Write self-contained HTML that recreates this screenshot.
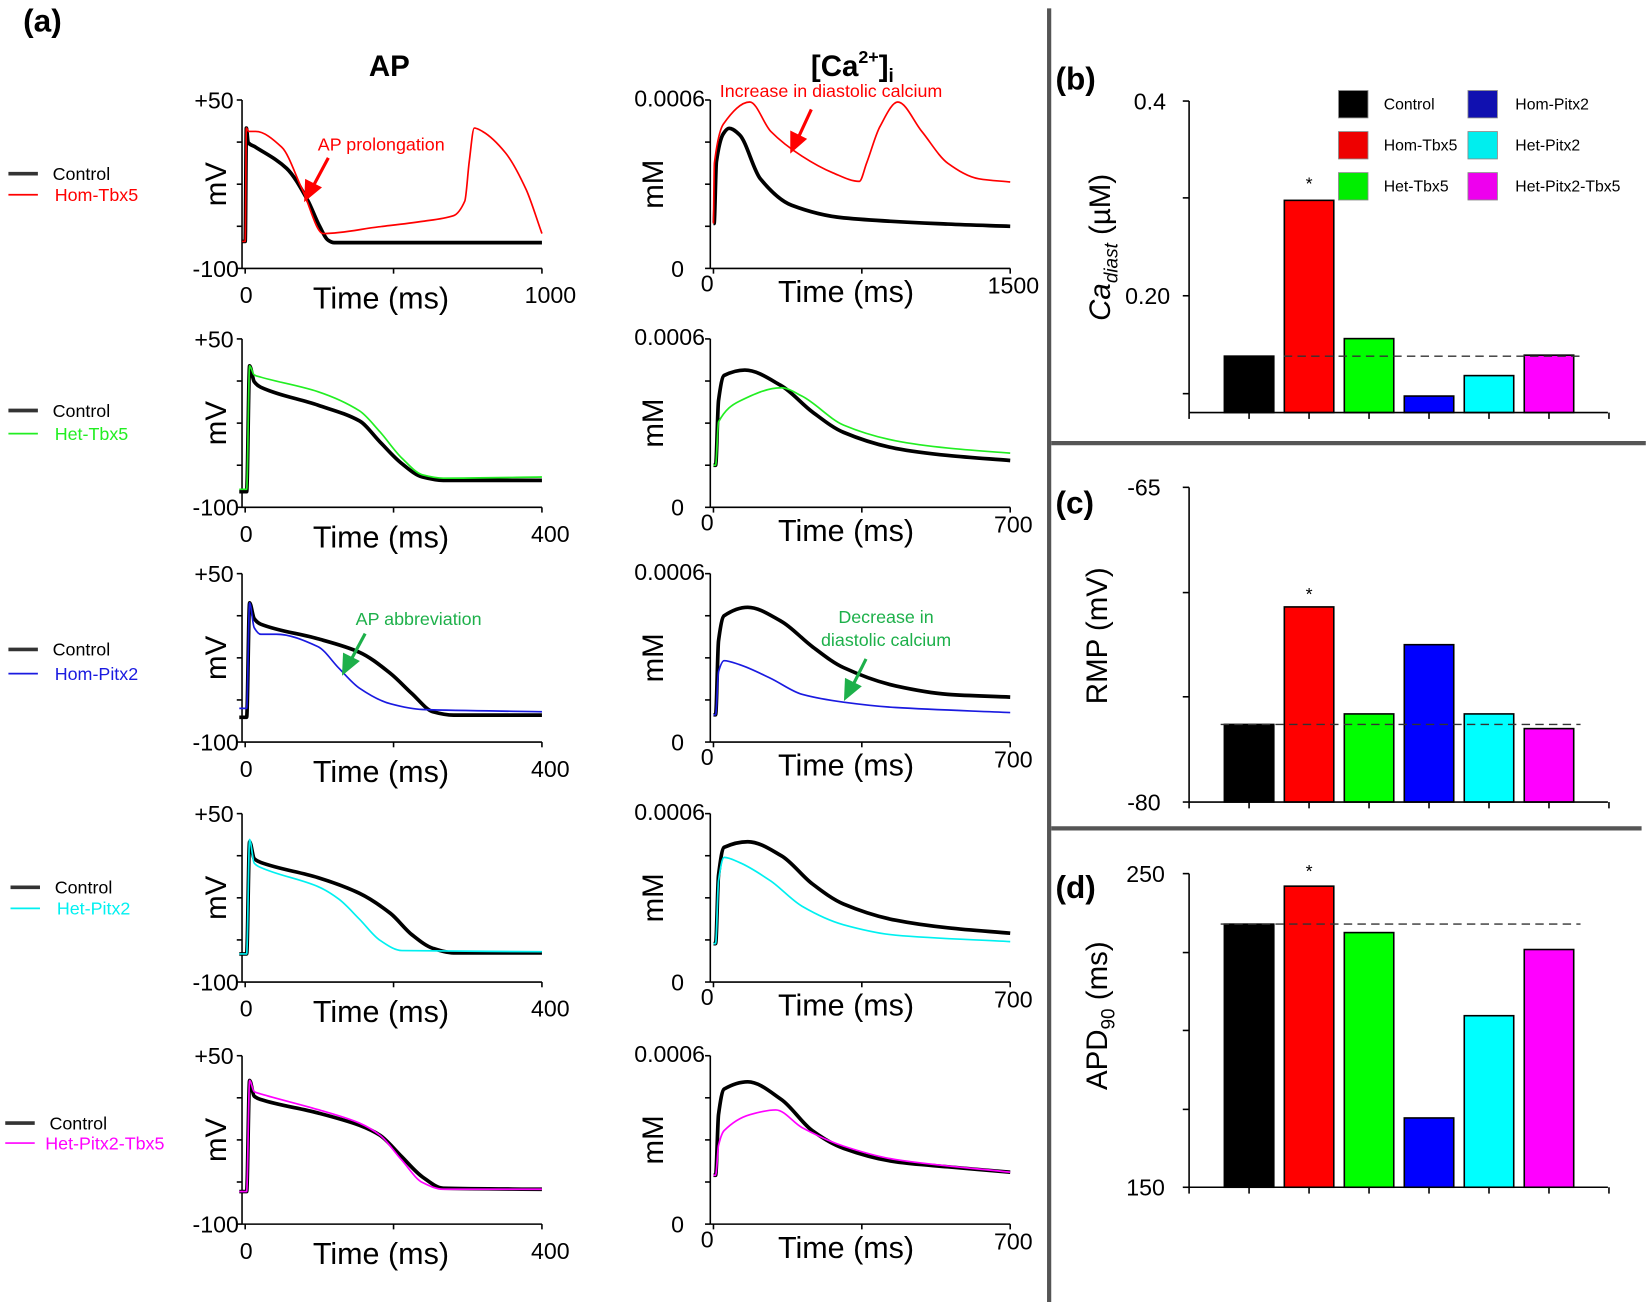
<!DOCTYPE html>
<html><head><meta charset="utf-8"><style>
html,body{margin:0;padding:0;background:#fff;}
svg{display:block;font-family:"Liberation Sans",Arial,sans-serif;}
</style></head><body>
<svg id="fig" width="1650" height="1302" viewBox="0 0 1568 1237" preserveAspectRatio="none" xmlns="http://www.w3.org/2000/svg">
<rect x="0" y="0" width="1568" height="1237" fill="#fff"/>
<text x="22" y="30" font-size="30" font-weight="bold">(a)</text>
<text x="370" y="72" font-size="28" font-weight="bold" text-anchor="middle">AP</text>
<text x="810" y="72" font-size="28" font-weight="bold" text-anchor="middle">[Ca<tspan dy="-12" font-size="17">2+</tspan><tspan dy="12">]</tspan><tspan dy="6" font-size="18">i</tspan></text>
<line x1="997" y1="8" x2="997" y2="1237" stroke="#555" stroke-width="4"/>
<line x1="999" y1="421" x2="1564" y2="421" stroke="#555" stroke-width="4"/>
<line x1="999" y1="787" x2="1560" y2="787" stroke="#555" stroke-width="4"/>
<g id="traces"></g>
<g id="bars"></g>
<text x="302" y="143" font-size="17" fill="#f00">AP prolongation</text>
<text x="684" y="92" font-size="17" fill="#f00">Increase in diastolic calcium</text>
<text x="338" y="594" font-size="17" fill="#1db04a">AP abbreviation</text>
<text x="842" y="592" font-size="17" fill="#1db04a" text-anchor="middle">Decrease in</text>
<text x="842" y="614" font-size="17" fill="#1db04a" text-anchor="middle">diastolic calcium</text>
<g>
<line x1="312" y1="150" x2="297" y2="178" stroke="#f00" stroke-width="3"/><polygon points="289,192 290,170 306,178" fill="#f00"/>
<line x1="771" y1="104" x2="758" y2="132" stroke="#f00" stroke-width="3"/><polygon points="751,146 751,124 767,132" fill="#f00"/>
<line x1="347" y1="602" x2="333" y2="628" stroke="#1db04a" stroke-width="3"/><polygon points="325,642 326,620 342,628" fill="#1db04a"/>
<line x1="823" y1="626" x2="810" y2="652" stroke="#1db04a" stroke-width="3"/><polygon points="802,666 803,644 819,652" fill="#1db04a"/>
</g>
</svg>
<script>
const ap1T_ctrl=[-10,0,4,10,35,140,210,250,280,300,1000];
const ap1V_ctrl=[-76,-76,25,12,8,-11,-39,-62,-75,-77,-77];
const ap1T_mut=[-10,0,4,12,35,123,193,263,450,600,702,740,755,772,800,877,947,1000];
const ap1V_mut=[-76,-76,25,22,22,8,-30,-69,-63,-58,-53,-40,-5,25,22,3,-30,-69];
const ca1T_ctrl=[0,3,15,50,79,132,237,395,658,1184,1500];
const ca1V_ctrl=[1.6,1.6,3.8,4.8,4.99,4.76,3.19,2.25,1.8,1.58,1.5];
const ca1T_mut=[0,5,50,184,290,447,605,737,774,842,932,1053,1184,1342,1500];
const ca1V_mut=[1.6,3.75,5.14,5.93,4.88,4.0,3.4,3.1,3.75,5.06,5.93,4.88,3.75,3.19,3.08];

const ap2T_ctrl=[-8,2,6,12,21,98,154,182,211,239,267,400];
const ap2V_ctrl=[-86,-86,26,12,7,-9,-23,-42,-61,-73,-76,-76];
const ap2T_mut=[-8,2,6,12,21,98,154,182,211,239,267,400];
const ap2V_mut=[-84,-84,26,18,16,3,-14,-33,-56,-71,-74,-73];
const ca2T_ctrl=[0,5,12,25,74,160,233,307,430,553,700];
const ca2V_ctrl=[1.5,1.5,3.8,4.7,4.89,4.33,3.4,2.67,2.1,1.85,1.67];
const ca2T_mut=[0,5,12,61,160,209,307,430,553,700];
const ca2V_mut=[1.5,1.5,3.04,3.78,4.26,3.96,2.93,2.37,2.11,1.93];

const ap3T_ctrl=[-8,2,6,12,21,98,154,196,225,253,281,400];
const ap3V_ctrl=[-78,-78,24,10,5,-8,-20,-39,-57,-73,-76,-76];
const ap3T_mut=[-8,2,6,12,21,42,98,126,154,196,239,400];
const ap3V_mut=[-70,-70,24,2,-4,-4,-15,-34,-52,-66,-71,-73];
const ca3T_ctrl=[0,5,12,25,81,160,233,307,430,553,700];
const ca3V_ctrl=[0.97,0.97,3.6,4.5,4.8,4.3,3.4,2.65,2.0,1.7,1.6];
const ca3T_mut=[0,5,12,25,61,135,209,307,430,700];
const ca3V_mut=[0.97,0.97,2.5,2.9,2.76,2.27,1.7,1.42,1.23,1.05];

const ap4T_ctrl=[-8,2,6,12,21,98,154,196,225,253,281,400];
const ap4V_ctrl=[-75,-75,25,10,6.5,-7,-21,-39,-58,-70,-74,-74];
const ap4T_mut=[-8,2,6,12,21,98,126,154,182,211,400];
const ap4V_mut=[-75,-75,27,6,2,-15,-26,-44,-63,-72,-73];
const ca4T_ctrl=[0,5,12,25,81,160,233,307,430,553,700];
const ca4V_ctrl=[1.37,1.37,3.8,4.8,5.0,4.5,3.5,2.78,2.2,1.93,1.74];
const ca4T_mut=[0,5,12,25,61,135,209,307,430,700];
const ca4V_mut=[1.37,1.37,3.6,4.44,4.26,3.6,2.7,2.04,1.67,1.44];

const ap5T_ctrl=[-8,2,6,12,21,98,154,182,211,239,267,400];
const ap5V_ctrl=[-71,-71,28,14,11,-1,-12,-21,-40,-58,-68,-69];
const ap5T_mut=[-8,2,6,12,21,98,154,182,211,239,267,400];
const ap5V_mut=[-71,-71,28,18,16,2,-10,-21,-43,-63,-69,-69];
const ca5T_ctrl=[0,5,12,25,81,160,233,307,430,553,700];
const ca5V_ctrl=[1.74,1.74,3.9,4.81,5.07,4.44,3.33,2.7,2.22,2.04,1.85];
const ca5T_mut=[0,5,12,25,86,147,209,307,430,700];
const ca5V_mut=[1.74,1.74,2.8,3.33,3.9,4.07,3.44,2.78,2.3,1.85];

const apTmax=[1000,400,400,400,400];
const caTmax=[1500,700,700,700,700];
const mutNames=["Hom-Tbx5","Het-Tbx5","Hom-Pitx2","Het-Pitx2","Het-Pitx2-Tbx5"];
const mutColors=["#ff0000","#22ee22","#1a1ae0","#00f0f0","#ff00ff"];

const barCats=["Control","Hom-Tbx5","Het-Tbx5","Hom-Pitx2","Het-Pitx2","Het-Pitx2-Tbx5"];
const barColors=["#000000","#ff0000","#00ff00","#0000ff","#00ffff","#ff00ff"];
const caDiast=[0.138,0.298,0.156,0.097,0.118,0.139];
const rmpVals=[-76.3,-70.7,-75.8,-72.5,-75.8,-76.5];
const apdVals=[233.9,246,231.2,172.1,204.7,225.8];
const caTicks=["0.4","0.20"];
const rmpTicks=["-65","-80"];
const apdTicks=["250","150"];

const NS="http://www.w3.org/2000/svg";
function mk(tag,attrs,parent,text){const e=document.createElementNS(NS,tag);for(const k in attrs)e.setAttribute(k,attrs[k]);if(text!==undefined)e.textContent=text;parent.appendChild(e);return e;}
function monoPath(xs,ys){
  const n=xs.length;const d=[],m=[];
  for(let i=0;i<n-1;i++){d.push((ys[i+1]-ys[i])/((xs[i+1]-xs[i])||1e-6));}
  m[0]=d[0];m[n-1]=d[n-2];
  for(let i=1;i<n-1;i++){m[i]=(d[i-1]*d[i]<=0)?0:(2/(1/d[i-1]+1/d[i]));}
  let p="M"+xs[0].toFixed(1)+","+ys[0].toFixed(1);
  for(let i=0;i<n-1;i++){const h=(xs[i+1]-xs[i])/3;
    p+=" C"+(xs[i]+h).toFixed(1)+","+(ys[i]+m[i]*h).toFixed(1)+" "+(xs[i+1]-h).toFixed(1)+","+(ys[i+1]-m[i+1]*h).toFixed(1)+" "+xs[i+1].toFixed(1)+","+ys[i+1].toFixed(1);}
  return p;}

const tr=document.getElementById('traces');
const rowTop=[95,322,545,773,1003];
const rowH=160;
const legY=[[165,185],[390,412],[617,640],[843,863],[1067,1086]];
const apData=[[ap1T_ctrl,ap1V_ctrl,ap1T_mut,ap1V_mut],[ap2T_ctrl,ap2V_ctrl,ap2T_mut,ap2V_mut],[ap3T_ctrl,ap3V_ctrl,ap3T_mut,ap3V_mut],[ap4T_ctrl,ap4V_ctrl,ap4T_mut,ap4V_mut],[ap5T_ctrl,ap5V_ctrl,ap5T_mut,ap5V_mut]];
const caData=[[ca1T_ctrl,ca1V_ctrl,ca1T_mut,ca1V_mut],[ca2T_ctrl,ca2V_ctrl,ca2T_mut,ca2V_mut],[ca3T_ctrl,ca3V_ctrl,ca3T_mut,ca3V_mut],[ca4T_ctrl,ca4V_ctrl,ca4T_mut,ca4V_mut],[ca5T_ctrl,ca5V_ctrl,ca5T_mut,ca5V_mut]];

for(let r=0;r<5;r++){
  const top=rowTop[r],bot=top+rowH;
  const ax0=230,ax1=515;
  const xAP=t=>ax0+3+(t/apTmax[r])*(ax1-ax0-3);
  const yAP=v=>top+(50-v)/150*rowH;
  const g=mk('g',{},tr);
  
  
  mk('line',{x1:ax0,y1:top,x2:ax0,y2:bot,stroke:'#000','stroke-width':1.5},g);
  mk('line',{x1:ax0,y1:bot,x2:ax1,y2:bot,stroke:'#000','stroke-width':1.5},g);
  for(let k=0;k<5;k++){const yy=top+k*rowH/4;mk('line',{x1:ax0-5,y1:yy,x2:ax0,y2:yy,stroke:'#000','stroke-width':1.5},g);}
  for(let k=0;k<3;k++){const xx=ax0+3+k*(ax1-ax0-3)/2;mk('line',{x1:xx,y1:bot,x2:xx,y2:bot+5,stroke:'#000','stroke-width':1.5},g);}
  mk('text',{x:ax0-8,y:top+8,'font-size':22,'text-anchor':'end'},g,'+50');
  mk('text',{x:ax0-3,y:bot+8,'font-size':22,'text-anchor':'end'},g,'-100');
  mk('text',{x:ax0+4,y:bot+33,'font-size':22,'text-anchor':'middle'},g,'0');
  mk('text',{x:ax1+8,y:bot+33,'font-size':22,'text-anchor':'middle'},g,String(apTmax[r]));
  mk('text',{x:362,y:bot+38,'font-size':29,'text-anchor':'middle'},g,'Time (ms)');
  mk('text',{x:0,y:0,'font-size':28,'text-anchor':'middle',transform:'translate(215,'+(top+rowH/2)+') rotate(-90)'},g,'mV');
  const A=apData[r];
  const pc=mk('path',{d:monoPath(A[0].map(xAP),A[1].map(yAP)),fill:'none',stroke:'#000','stroke-width':3.5,'stroke-linejoin':'round'},g);
  
  
  const pm=mk('path',{d:monoPath(A[2].map(xAP),A[3].map(yAP)),fill:'none',stroke:mutColors[r],'stroke-width':1.6,'stroke-linejoin':'round'},g);
  
  
  const cx0=675,cx1=960;
  const xCa=t=>cx0+3+(t/caTmax[r])*(cx1-cx0-3);
  const yCa=v=>bot-(v/6)*rowH;
  const gc=mk('g',{},tr);
  
  
  mk('line',{x1:cx0,y1:top,x2:cx0,y2:bot,stroke:'#000','stroke-width':1.5},gc);
  mk('line',{x1:cx0,y1:bot,x2:cx1,y2:bot,stroke:'#000','stroke-width':1.5},gc);
  for(let k=0;k<5;k++){const yy=top+k*rowH/4;mk('line',{x1:cx0-5,y1:yy,x2:cx0,y2:yy,stroke:'#000','stroke-width':1.5},gc);}
  for(let k=0;k<3;k++){const xx=cx0+3+k*(cx1-cx0-3)/2;mk('line',{x1:xx,y1:bot,x2:xx,y2:bot+5,stroke:'#000','stroke-width':1.5},gc);}
  mk('text',{x:cx0-5,y:top+6,'font-size':22,'text-anchor':'end'},gc,'0.0006');
  mk('text',{x:cx0-25,y:bot+8,'font-size':22,'text-anchor':'end'},gc,'0');
  mk('text',{x:cx0-3,y:bot+22,'font-size':22,'text-anchor':'middle'},gc,'0');
  mk('text',{x:cx1+3,y:bot+24,'font-size':22,'text-anchor':'middle'},gc,String(caTmax[r]));
  mk('text',{x:804,y:bot+32,'font-size':29,'text-anchor':'middle'},gc,'Time (ms)');
  mk('text',{x:0,y:0,'font-size':28,'text-anchor':'middle',transform:'translate(630,'+(top+rowH/2)+') rotate(-90)'},gc,'mM');
  const C=caData[r];
  const cc=mk('path',{d:monoPath(C[0].map(xCa),C[1].map(yCa)),fill:'none',stroke:'#000','stroke-width':3.5,'stroke-linejoin':'round'},gc);
  
  
  const cm=mk('path',{d:monoPath(C[2].map(xCa),C[3].map(yCa)),fill:'none',stroke:mutColors[r],'stroke-width':1.6,'stroke-linejoin':'round'},gc);
  
  
  const gl=mk('g',{},tr);
  
  
  const lx=r===3?10:(r===4?5:8);
  mk('line',{x1:lx,y1:legY[r][0],x2:lx+28,y2:legY[r][0],stroke:'#333','stroke-width':3.5},gl);
  mk('text',{x:lx+42,y:legY[r][0]+6,'font-size':17},gl,'Control');
  mk('line',{x1:lx,y1:legY[r][1],x2:lx+28,y2:legY[r][1],stroke:mutColors[r],'stroke-width':1.6},gl);
  mk('text',{x:(r===4?43:lx+44),y:legY[r][1]+6,'font-size':17,fill:mutColors[r]},gl,mutNames[r]);
}

const bg=document.getElementById('bars');
const barX0=1130,barX1=1528,barW=47;
const catX=i=>1187+i*57;
function barChart(name,vals,vTop,vBot,yTop,yBot,ticksN,tickLbls,dashX0,starY,label,labelNode){
  const g=mk('g',{},bg);
  
  
  const y=v=>yBot-(v-vBot)/(vTop-vBot)*(yBot-yTop);
  for(let i=0;i<vals.length;i++){
    const b=mk('rect',{x:catX(i)-barW/2,y:y(vals[i]),width:barW,height:yBot-y(vals[i]),fill:barColors[i],stroke:'#000','stroke-width':1.5},g);
    
    
  }
  mk('line',{x1:dashX0,y1:y(vals[0]),x2:1502,y2:y(vals[0]),stroke:'#333','stroke-width':1.3,'stroke-dasharray':'8,5'},g);
  mk('line',{x1:barX0,y1:yTop,x2:barX0,y2:yBot,stroke:'#000','stroke-width':1.5},g);
  mk('line',{x1:barX0,y1:yBot,x2:barX1,y2:yBot,stroke:'#000','stroke-width':1.5},g);
  for(const yy of ticksN){mk('line',{x1:barX0-6,y1:yy,x2:barX0,y2:yy,stroke:'#000','stroke-width':1.5},g);}
  for(let i=0;i<=7;i++){const xx=barX0+i*57;mk('line',{x1:xx,y1:yBot,x2:xx,y2:yBot+6,stroke:'#000','stroke-width':1.5},g);}
  mk('text',{x:catX(1),y:starY,'font-size':17,'text-anchor':'middle'},g,'*');
  for(const t of tickLbls){mk('text',{x:t[0],y:t[1],'font-size':22,'text-anchor':'end'},g,t[2]);}
  labelNode(g);
}
barChart('cadiast-chart',caDiast,0.4,0.08,96,392,[96,188,281,374],[[1108,104,caTicks[0]],[1112,289,caTicks[1]]],1220,180,'',g=>{
  const t=mk('text',{'font-size':28,'text-anchor':'middle',transform:'translate(1055,235) rotate(-90)'},g);
  mk('tspan',{'font-style':'italic'},t,'Ca');
  mk('tspan',{'font-style':'italic','font-size':18,dy:7},t,'diast');
  mk('tspan',{dy:-7},t,' (µM)');
});
barChart('rmp-chart',rmpVals,-65,-80,463,762,[463,563,662,762],[[1103,471,rmpTicks[0]],[1103,770,rmpTicks[1]]],1160,570,'',g=>{
  mk('text',{'font-size':28,'text-anchor':'middle',transform:'translate(1052,604) rotate(-90)'},g,'RMP (mV)');
});
barChart('apd90-chart',apdVals,250,150,830,1128,[830,905,979,1054,1128],[[1107,838,apdTicks[0]],[1107,1136,apdTicks[1]]],1160,833,'',g=>{
  const t=mk('text',{'font-size':28,'text-anchor':'middle',transform:'translate(1052,965) rotate(-90)'},g);
  mk('tspan',{},t,'APD');
  mk('tspan',{'font-size':18,dy:7},t,'90');
  mk('tspan',{dy:-7},t,' (ms)');
});
mk('text',{x:1003,y:85,'font-size':30,'font-weight':'bold'},bg,'(b)');
mk('text',{x:1003,y:488,'font-size':30,'font-weight':'bold'},bg,'(c)');
mk('text',{x:1003,y:853,'font-size':30,'font-weight':'bold'},bg,'(d)');
const legPos=[[1272,86],[1272,125],[1272,164],[1395,86],[1395,125],[1395,164]];
const legCols=["#000000","#ee0000","#00ee00","#1010b0","#00eeee","#ee00ee"];
const lg=mk('g',{},bg);


const legOrder=[0,1,2,3,4,5];
for(const i of legOrder){
  const p=legPos[i];
  mk('rect',{x:p[0],y:p[1],width:28,height:26,fill:legCols[i],stroke:'#888','stroke-width':0.8},lg);
  mk('text',{x:p[0]+(i<3?43:45),y:p[1]+18,'font-size':15},lg,barCats[i]);
}
</script>
</body></html>
